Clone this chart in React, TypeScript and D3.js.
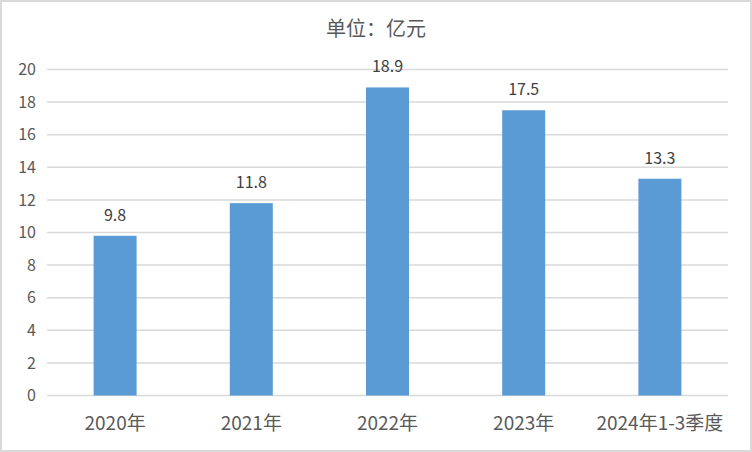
import React from "react";
import * as d3 from "d3";

const categories = ["2020年", "2021年", "2022年", "2023年", "2024年1-3季度"];
const values = [9.8, 11.8, 18.9, 17.5, 13.3];
const yTicks = [0, 2, 4, 6, 8, 10, 12, 14, 16, 18, 20];
const title = "单位：亿元";

const W = 752;
const H = 452;
const FONT = "'Noto Sans CJK SC', 'Noto Sans', sans-serif";

export default function App() {
  const x = d3.scaleBand<string>().domain(categories).range([47, 728]).paddingInner(0.68).paddingOuter(0.34);
  const y = d3.scaleLinear().domain([0, 20]).range([395.5, 69.5]);
  const bw = 43;
  return (
    <svg width={W} height={H} style={{ position: "absolute", left: 0, top: 0 }} fontFamily={FONT}>
      <rect x={0} y={0} width={W} height={H} fill="#fff" />
      <rect x={1} y={1} width={W - 2} height={H - 2} fill="none" stroke="#d9d9d9" strokeWidth={2} />
      <text x={376} y={36} textAnchor="middle" fontSize={20} fill="#595959">{title}</text>
      {yTicks.map((t) => (
        <g key={t}>
          <line x1={47} x2={728} y1={y(t)} y2={y(t)} stroke="#d9d9d9" strokeWidth={1.5} />
          <text x={36} y={y(t)} dy="0.36em" textAnchor="end" fontSize={16} fill="#595959">{t}</text>
        </g>
      ))}
      {categories.map((c, i) => {
        const cx = (x(c) as number) + x.bandwidth() / 2;
        return (
          <g key={c}>
            <rect x={cx - bw / 2} y={y(values[i])} width={bw} height={y(0) - y(values[i])} fill="#5b9bd5" />
            <text x={cx} y={y(values[i]) - 15} textAnchor="middle" fontSize={16} fill="#404040">{values[i]}</text>
            <text x={cx} y={430} textAnchor="middle" fontSize={19} fill="#595959">{c}</text>
          </g>
        );
      })}
    </svg>
  );
}
